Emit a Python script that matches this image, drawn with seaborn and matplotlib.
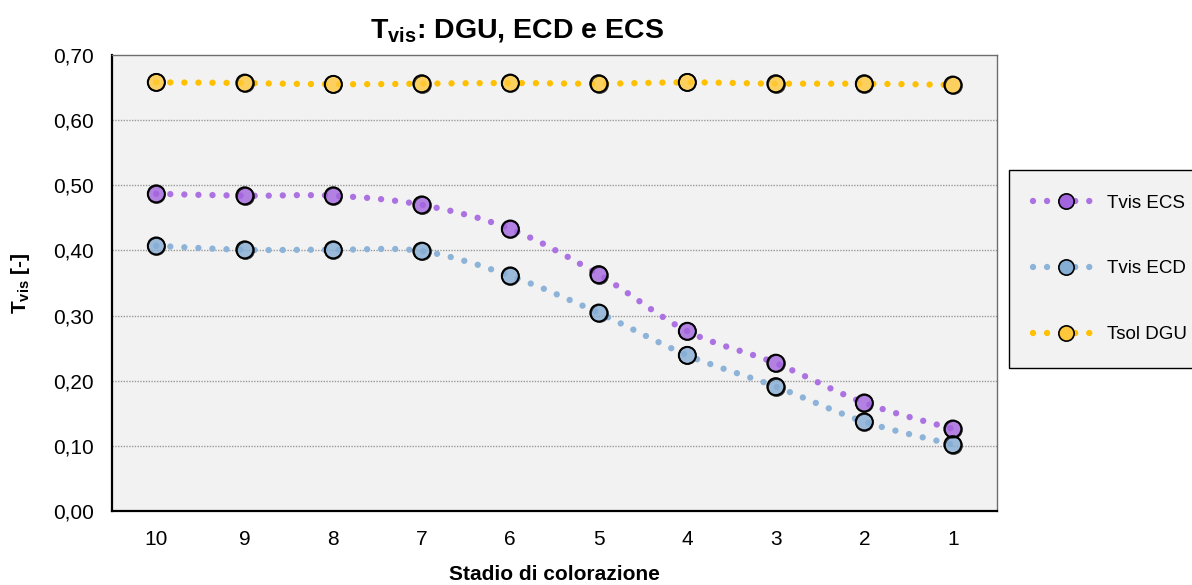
import numpy as np
import matplotlib
matplotlib.use("Agg")
import matplotlib.pyplot as plt
from matplotlib.path import Path
from matplotlib.patches import PathPatch
from matplotlib.lines import Line2D
import seaborn as sns

# Data
stages = ["10", "9", "8", "7", "6", "5", "4", "3", "2", "1"]
tvis_ecs = [0.487, 0.484, 0.484, 0.470, 0.433, 0.363, 0.276, 0.227, 0.166, 0.126]
tvis_ecd = [0.407, 0.401, 0.401, 0.399, 0.361, 0.304, 0.239, 0.191, 0.137, 0.102]
tsol_dgu = [0.658, 0.657, 0.655, 0.656, 0.657, 0.656, 0.658, 0.656, 0.656, 0.654]
series_names = ["Tvis ECS", "Tvis ECD", "Tsol DGU"]
y_ticks = [0.0, 0.1, 0.2, 0.3, 0.4, 0.5, 0.6, 0.7]

sns.set_style("white")
plt.rcParams['font.family'] = ['Liberation Sans', 'DejaVu Sans']
plt.rcParams['mathtext.fontset'] = 'custom'
plt.rcParams['mathtext.rm'] = 'Liberation Sans'
plt.rcParams['mathtext.bf'] = 'Liberation Sans:bold'
plt.rcParams['text.color'] = 'black'
plt.rcParams['axes.labelcolor'] = 'black'

line_colors = ['#AC72E2', '#8DB4D8', '#FFC000']
face_colors = ['#A265DE', '#86ADD3', '#FFC83A']


def smooth_path(xs, ys):
    # Excel-like smoothed line: Catmull-Rom segments as cubic Beziers
    P = np.column_stack([xs, ys])
    n = len(P)
    verts = [P[0]]
    codes = [Path.MOVETO]
    for i in range(n - 1):
        p0 = P[i - 1] if i > 0 else P[i]
        p1, p2 = P[i], P[i + 1]
        p3 = P[i + 2] if i + 2 < n else P[i + 1]
        verts += [p1 + (p2 - p0) / 6, p2 - (p3 - p1) / 6, p2]
        codes += [Path.CURVE4] * 3
    return Path(verts, codes)


fig = plt.figure(figsize=(11.92, 5.85), dpi=100)
ax = fig.add_axes([112 / 1192, 1 - 511 / 585, 885 / 1192, 456 / 585])
ax.set_facecolor('#F2F2F2')

pos = np.arange(len(stages))
dots = (0, (0.001, 2.2))
handles = []
for vals, name, lc, fc in zip([tvis_ecs, tvis_ecd, tsol_dgu], series_names, line_colors, face_colors):
    patch = PathPatch(smooth_path(pos, vals), fill=False, edgecolor=lc, lw=4.6,
                      linestyle=dots, capstyle='round', zorder=2)
    ax.add_patch(patch)
    sns.scatterplot(x=pos, y=vals, ax=ax, s=150, color=fc, alpha=0.8,
                    edgecolor='black', linewidth=1.3, zorder=3, legend=False)
    sns.scatterplot(x=pos, y=vals, ax=ax, s=150, facecolor='none',
                    edgecolor='black', linewidth=1.3, zorder=4, legend=False)
    handles.append(Line2D([0], [0], color=lc, lw=4.6, linestyle=dots,
                          dash_capstyle='round', marker='o', markersize=11,
                          markerfacecolor=fc, markeredgecolor='black',
                          markeredgewidth=1.2, label=name))

ax.set_xlim(-0.5, len(stages) - 0.5)
ax.set_ylim(0, 0.7)
ax.set_xticks(pos)
ax.set_xticklabels(stages)
ax.set_yticks(y_ticks)
ax.set_yticklabels([f"{v:.2f}".replace('.', ',') for v in y_ticks])
ax.tick_params(axis='both', length=0, labelsize=15, colors='black')
ax.tick_params(axis='y', pad=13)
ax.tick_params(axis='x', pad=14)
for t in y_ticks[1:-1]:
    ax.axhline(t, color='#9A9A9A', lw=1, linestyle=(0, (1, 1)), zorder=1)

for side in ['left', 'bottom']:
    ax.spines[side].set_color('black')
    ax.spines[side].set_linewidth(1.6)
for side in ['top', 'right']:
    ax.spines[side].set_color('#6E6E6E')
    ax.spines[side].set_linewidth(1.0)

ax.set_xlabel("Stadio di colorazione", fontsize=15, fontweight='bold', labelpad=11)
fig.text(20 / 1192, 1 - 283 / 585, r"$\mathbf{T_{vis}}$ [-]", rotation=90,
         fontsize=15, fontweight='bold', ha='center', va='center')
fig.text(517 / 1192, 1 - 31 / 585, r"$\mathbf{T_{vis}}$: DGU, ECD e ECS",
         fontsize=20.5, fontweight='bold', ha='center', va='center')

leg = fig.legend(handles=handles, loc='upper left',
                 bbox_to_anchor=(1009 / 1192, 1 - 170 / 585), fontsize=13.5,
                 frameon=True, fancybox=False, facecolor='#F2F2F2', edgecolor='black',
                 handlelength=3.5, handletextpad=0.45, labelspacing=2.6,
                 borderpad=1.3, borderaxespad=0, numpoints=1)
leg.get_frame().set_linewidth(1.0)
leg.get_frame().set_alpha(None)

fig.savefig("out.png", dpi=100)
